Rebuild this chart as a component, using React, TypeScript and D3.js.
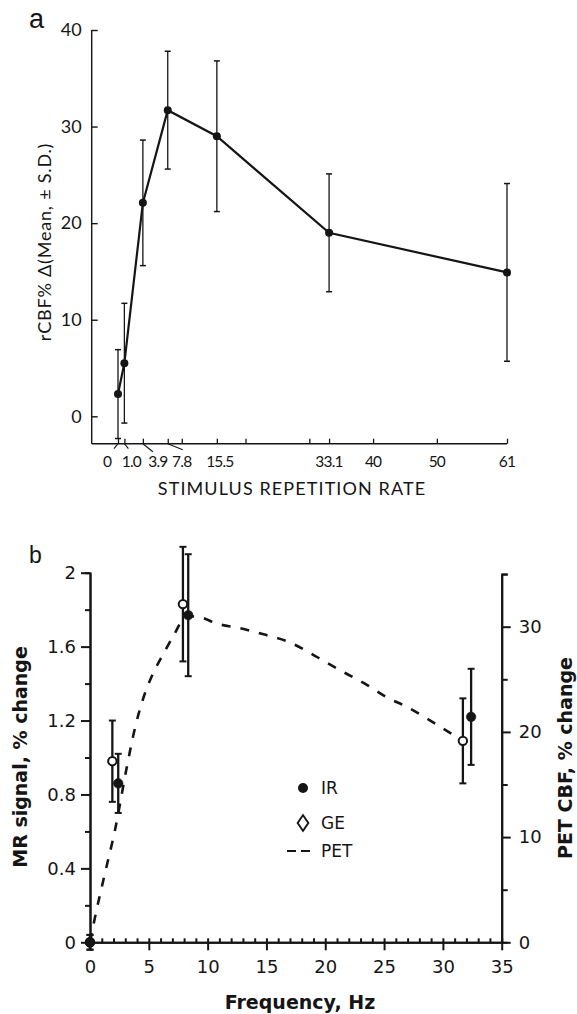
import React, { useEffect, useRef } from 'react';
import * as d3 from 'd3';

// panel a: rCBF change vs stimulus repetition rate (mean ± SD)
const rateA = [0, 1.0, 3.9, 7.8, 15.5, 33.1, 61];
const meanA = [2.3, 5.5, 22.1, 31.7, 29.0, 19.0, 14.9];
const sdA = [4.6, 6.2, 6.5, 6.1, 7.8, 6.1, 9.2];
const yTicksA = [0, 10, 20, 30, 40];
const xTicksA = [0, 1.0, 3.9, 7.8, 10, 15.5, 20, 30, 33.1, 40, 50, 61];
const xLabelValsA = [0, 1.0, 3.9, 7.8, 15.5, 33.1, 40, 50, 61];
const xLabelsA = ['0', '1.0', '3.9', '7.8', '15.5', '33.1', '40', '50', '61'];

// panel b: MR signal (IR, GE) and PET CBF vs frequency
const hzIR = [0, 2.4, 8.35, 32.4];
const valIR = [0, 0.86, 1.77, 1.22];
const errIR = [0.04, 0.16, 0.33, 0.26];
const hzGE = [0, 1.9, 7.9, 31.7];
const valGE = [0, 0.98, 1.83, 1.09];
const errGE = [0.04, 0.22, 0.31, 0.23];
const hzPET = [0, 0.43, 1.28, 2.13, 3.12, 3.83, 4.53, 5.38, 6.23, 7.08, 8.22, 9.35, 10.77, 12.76, 15.0, 17.0, 18.4, 20.1, 21.7, 23.5, 25.2, 26.9, 28.6, 30.2, 31.6];
const valPET = [0, 2.4, 6.6, 10.7, 16.6, 20.4, 23.2, 25.6, 27.4, 29.1, 31.0, 30.9, 30.3, 29.85, 29.2, 28.5, 27.7, 26.6, 25.6, 24.5, 23.3, 22.4, 21.3, 20.2, 19.2];
const leftTicksB = [0, 0.4, 0.8, 1.2, 1.6, 2];
const leftMinorB = [0.2, 0.6, 1.0, 1.4, 1.8];
const rightTicksB = [0, 10, 20, 30];
const rightMinorB = [5, 15, 25, 35];
const xTicksB = [0, 5, 10, 15, 20, 25, 30, 35];
const xMinorB = d3.range(0, 36);

const fontA = "Lato, 'Open Sans', sans-serif";
const fontB = "'DejaVu Sans', sans-serif";
const ink = '#151515';

export default function App() {
  const ref = useRef<SVGSVGElement>(null);

  useEffect(() => {
    const svg = d3.select(ref.current);
    svg.selectAll('*').remove();

    // ---------- panel a ----------
    const ga = svg.append('g').attr('font-family', fontA).attr('fill', ink);
    const xA = d3.scaleLinear().domain([0, 61]).range([118, 507]);
    const yA = d3.scaleLinear().domain([0, 40]).range([416.3, 30]);
    const baseA = 443.7;
    const leftA = 91.7;

    ga.append('text').attr('x', 29).attr('y', 28).attr('font-size', 27)
      .attr('font-family', "'Liberation Sans', sans-serif").text('a');

    // axis lines
    ga.append('line').attr('x1', leftA).attr('x2', leftA).attr('y1', yA(40)).attr('y2', baseA)
      .attr('stroke', ink).attr('stroke-width', 1.4);
    ga.append('line').attr('x1', leftA).attr('x2', xA(61)).attr('y1', baseA).attr('y2', baseA)
      .attr('stroke', ink).attr('stroke-width', 1.4);

    const yAxA = ga.append('g').attr('transform', `translate(${leftA},0)`)
      .call(d3.axisLeft(yA).tickValues(yTicksA).tickSizeInner(-6).tickSizeOuter(0).tickPadding(10));
    yAxA.select('.domain').remove();
    yAxA.attr('font-family', null).attr('font-size', null);
    yAxA.selectAll('line').attr('stroke', ink).attr('stroke-width', 1.4);
    yAxA.selectAll('text').attr('font-size', 18).attr('fill', ink);

    const xAxA = ga.append('g').attr('transform', `translate(0,${baseA})`)
      .call(d3.axisBottom(xA).tickValues(xTicksA).tickSizeInner(-5).tickSizeOuter(0).tickFormat(() => ''));
    xAxA.select('.domain').remove();
    xAxA.selectAll('line').attr('stroke', ink).attr('stroke-width', 1.3);

    // crowded low-rate labels are pushed aside with leader lines
    const shiftA: Record<string, number> = { '0': -11, '1.0': 7, '3.9': 15, '7.8': 14, '15.5': 3 };
    const leaderA: Record<string, [number, number]> = { '0': [-4, 5], '1.0': [4, 5], '3.9': [10, 8], '7.8': [15, 6] };
    xLabelValsA.forEach((v, i) => {
      const lab = xLabelsA[i];
      const x = xA(v) + (shiftA[lab] || 0);
      ga.append('text').attr('x', x).attr('y', 467).attr('text-anchor', 'middle')
        .attr('font-size', 15.5).attr('letter-spacing', -0.8).text(lab);
      const ld = leaderA[lab];
      if (ld) {
        ga.append('line').attr('x1', xA(v)).attr('y1', baseA).attr('x2', xA(v) + ld[0]).attr('y2', baseA + ld[1])
          .attr('stroke', ink).attr('stroke-width', 1.1);
      }
    });

    ga.append('text').attr('x', 292).attr('y', 495).attr('text-anchor', 'middle')
      .attr('font-size', 18).attr('letter-spacing', 1.1)
      .text('STIMULUS REPETITION RATE');
    ga.append('text').attr('transform', 'translate(51,242) rotate(-90)').attr('text-anchor', 'middle')
      .attr('font-size', 18).attr('letter-spacing', 0.8)
      .text('rCBF% \u0394(Mean, \u00B1 S.D.)');

    // error bars
    rateA.forEach((r, i) => {
      const x = xA(r);
      const top = yA(meanA[i] + sdA[i]);
      const bot = yA(meanA[i] - sdA[i]);
      ga.append('line').attr('x1', x).attr('x2', x).attr('y1', top).attr('y2', bot)
        .attr('stroke', ink).attr('stroke-width', 1.3);
      [top, bot].forEach(y => ga.append('line').attr('x1', x - 3).attr('x2', x + 3).attr('y1', y).attr('y2', y)
        .attr('stroke', ink).attr('stroke-width', 1.5));
    });

    const lineA = d3.line<number>().x((_, i) => xA(rateA[i])).y(d => yA(d));
    ga.append('path').attr('d', lineA(meanA)).attr('fill', 'none').attr('stroke', ink).attr('stroke-width', 2.2);
    ga.selectAll('circle.pa').data(meanA).enter().append('circle')
      .attr('cx', (_, i) => xA(rateA[i])).attr('cy', d => yA(d)).attr('r', 4).attr('fill', ink);

    // ---------- panel b ----------
    const gb = svg.append('g').attr('font-family', fontB).attr('fill', ink);
    const xB = d3.scaleLinear().domain([0, 35]).range([90, 501.7]);
    const yL = d3.scaleLinear().domain([0, 2]).range([942.3, 572.7]);
    const yR = d3.scaleLinear().domain([0, 35]).range([942.3, 574.1]);

    gb.append('text').attr('x', 29).attr('y', 563).attr('font-size', 23)
      .attr('font-family', "'Liberation Sans', sans-serif").text('b');

    const styleAxis = (g: any, w: number) => {
      g.attr('font-family', null).attr('font-size', null);
      g.select('.domain').attr('stroke', ink).attr('stroke-width', w);
      g.selectAll('line').attr('stroke', ink).attr('stroke-width', w);
      g.selectAll('text').attr('font-size', 18).attr('fill', ink);
    };

    const lMin = gb.append('g').attr('transform', `translate(${xB(0)},0)`)
      .call(d3.axisLeft(yL).tickValues(leftMinorB).tickSize(5).tickFormat(() => ''));
    styleAxis(lMin, 2);
    const lMaj = gb.append('g').attr('transform', `translate(${xB(0)},0)`)
      .call(d3.axisLeft(yL).tickValues(leftTicksB).tickSize(9).tickSizeOuter(0).tickPadding(5).tickFormat(d => String(d)));
    styleAxis(lMaj, 2);

    const rMin = gb.append('g').attr('transform', `translate(${xB(35)},0)`)
      .call(d3.axisRight(yR).tickValues(rightMinorB).tickSize(6).tickFormat(() => ''));
    styleAxis(rMin, 2);
    const rMaj = gb.append('g').attr('transform', `translate(${xB(35)},0)`)
      .call(d3.axisRight(yR).tickValues(rightTicksB).tickSize(9).tickSizeOuter(0).tickPadding(8).tickFormat(d => String(d)));
    styleAxis(rMaj, 2);

    const bMin = gb.append('g').attr('transform', `translate(0,${yL(0)})`)
      .call(d3.axisBottom(xB).tickValues(xMinorB).tickSize(-4).tickSizeOuter(0).tickFormat(() => ''));
    styleAxis(bMin, 2);
    const bMaj = gb.append('g').attr('transform', `translate(0,${yL(0)})`)
      .call(d3.axisBottom(xB).tickValues(xTicksB).tickSize(8).tickSizeOuter(0).tickPadding(10).tickFormat(d => String(d)));
    styleAxis(bMaj, 2);

    gb.append('text').attr('x', 300).attr('y', 1009).attr('text-anchor', 'middle')
      .attr('font-size', 19).attr('font-weight', 'bold').text('Frequency, Hz');
    gb.append('text').attr('transform', 'translate(27,757) rotate(-90)').attr('text-anchor', 'middle')
      .attr('font-size', 19).attr('font-weight', 'bold').text('MR signal, % change');
    gb.append('text').attr('transform', 'translate(572,758) rotate(-90)').attr('text-anchor', 'middle')
      .attr('font-size', 19).attr('font-weight', 'bold').text('PET CBF, % change');

    // PET curve on the right axis
    const linePET = d3.line<number>().curve(d3.curveMonotoneX).x((_, i) => xB(hzPET[i])).y(d => yR(d));
    gb.append('path').attr('d', linePET(valPET)).attr('fill', 'none').attr('stroke', ink)
      .attr('stroke-width', 2.6).attr('stroke-dasharray', '9,10');

    const drawSeries = (hz: number[], val: number[], err: number[], open: boolean) => {
      hz.forEach((h, i) => {
        const x = xB(h);
        const top = yL(val[i] + err[i]);
        const bot = yL(val[i] - err[i]);
        gb.append('line').attr('x1', x).attr('x2', x).attr('y1', top).attr('y2', bot)
          .attr('stroke', ink).attr('stroke-width', 2.3);
        [top, bot].forEach(y => gb.append('line').attr('x1', x - 3.5).attr('x2', x + 3.5).attr('y1', y).attr('y2', y)
          .attr('stroke', ink).attr('stroke-width', 2));
        gb.append('circle').attr('cx', x).attr('cy', yL(val[i])).attr('r', open ? 4.2 : 4.8)
          .attr('fill', open ? '#fff' : ink).attr('stroke', ink).attr('stroke-width', open ? 2 : 0.5);
      });
    };
    drawSeries(hzGE, valGE, errGE, true);
    drawSeries(hzIR, valIR, errIR, false);

    // legend
    gb.append('circle').attr('cx', 303).attr('cy', 788).attr('r', 5).attr('fill', ink);
    gb.append('path').attr('d', d3.symbol(d3.symbolDiamond, 70)()).attr('transform', 'translate(303,823) scale(1.2,1)')
      .attr('fill', '#fff').attr('stroke', ink).attr('stroke-width', 1.6);
    gb.append('line').attr('x1', 287).attr('x2', 311).attr('y1', 851).attr('y2', 851)
      .attr('stroke', ink).attr('stroke-width', 1.8).attr('stroke-dasharray', '9,5');
    [['IR', 788], ['GE', 823], ['PET', 851]].forEach(([t, y]) => {
      gb.append('text').attr('x', 321).attr('y', y as number).attr('dy', '0.36em')
        .attr('font-size', 17).text(t as string);
    });
  }, []);

  return (
    <svg ref={ref} width={577} height={1014}
      style={{ position: 'absolute', left: 0, top: 0, background: '#fff' }} />
  );
}
